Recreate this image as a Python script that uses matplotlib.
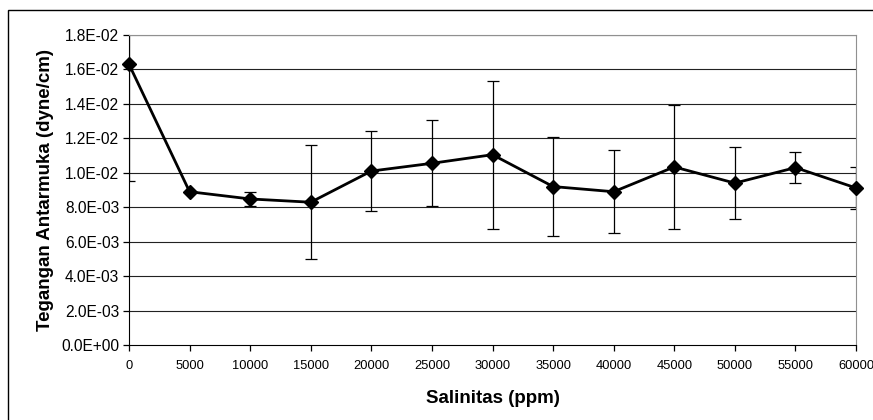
import matplotlib
matplotlib.use("Agg")
import matplotlib.pyplot as plt
from matplotlib.patches import Rectangle

salinity = [0, 5000, 10000, 15000, 20000, 25000, 30000, 35000, 40000, 45000, 50000, 55000, 60000]
tension = [0.0163, 0.0089, 0.00848, 0.00829, 0.0101, 0.01055, 0.01105, 0.0092, 0.0089, 0.01034, 0.0094, 0.0103, 0.00912]
error = [0.0068, 0.0, 0.00040, 0.00330, 0.0023, 0.00250, 0.00430, 0.00285, 0.0024, 0.00360, 0.0021, 0.0009, 0.00120]
xticks = [0, 5000, 10000, 15000, 20000, 25000, 30000, 35000, 40000, 45000, 50000, 55000, 60000]
yticks = [0.0, 0.002, 0.004, 0.006, 0.008, 0.010, 0.012, 0.014, 0.016, 0.018]
ytick_labels = ["0.0E+00", "2.0E-03", "4.0E-03", "6.0E-03", "8.0E-03", "1.0E-02", "1.2E-02", "1.4E-02", "1.6E-02", "1.8E-02"]

plt.rcParams['font.family'] = ['Liberation Sans', 'DejaVu Sans']

fig = plt.figure(figsize=(8.73, 4.20), dpi=100)
# chart-area border (only left and top edges fall inside the image)
fig.patches.append(Rectangle((8/873, -20/420), 900/873, 430/420, transform=fig.transFigure,
                             fill=False, edgecolor='black', linewidth=1.0, clip_on=False))

ax = fig.add_axes([129/873, 75/420, 727/873, 310/420])
ax.set_xlim(0, 60000)
ax.set_ylim(0, 0.018)

for y in yticks[1:]:
    ax.axhline(y, color='#222222', linewidth=0.8, zorder=1)

ax.errorbar(salinity, tension, yerr=error, fmt='none', ecolor='black', elinewidth=0.9,
            capsize=4, capthick=0.9, zorder=2)
ax.plot(salinity, tension, color='black', linewidth=2, marker='D', markersize=7.5,
        markerfacecolor='black', markeredgecolor='black', zorder=3, clip_on=False)

ax.set_xticks(xticks)
ax.set_xticklabels([str(v) for v in xticks], fontsize=9.3)
ax.set_yticks(yticks)
ax.set_yticklabels(ytick_labels, fontsize=11.2)
ax.tick_params(axis='both', direction='out', length=4, width=0.9, color='black', pad=3)
ax.tick_params(axis='x', pad=7)

ax.spines['left'].set_color('black')
ax.spines['bottom'].set_color('black')
ax.spines['right'].set_color('#909090')
ax.spines['top'].set_color('#909090')

ax.set_xlabel("Salinitas (ppm)", fontsize=13.5, fontweight='bold', labelpad=13)
ax.set_ylabel("Tegangan Antarmuka (dyne/cm)", fontsize=13.5, fontweight='bold', labelpad=5)

fig.savefig("out.png", dpi=100)
